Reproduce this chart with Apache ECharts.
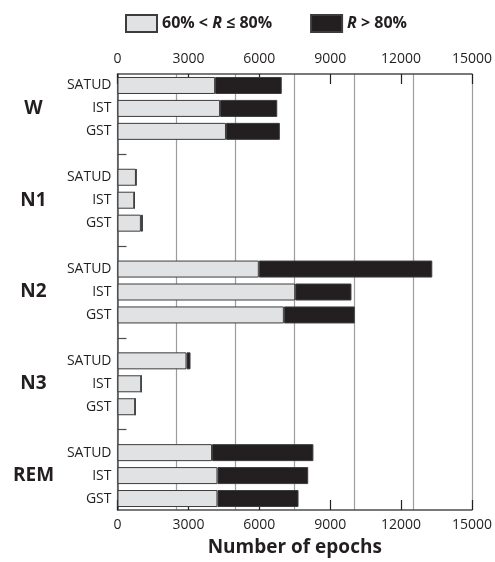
<!DOCTYPE html>
<html>
<head>
<meta charset="utf-8">
<script src="https://cdn.jsdelivr.net/npm/echarts@6/dist/echarts.min.js"></script>
<style>
  html, body { margin: 0; padding: 0; background: #fff; }
  #chart { width: 495px; height: 562px; }
</style>
</head>
<body>
<div id="chart"></div>
<script>
// stages (groups) and methods inside each group
const groups = ['W', 'N1', 'N2', 'N3', 'REM'];
const methods = ['SATUD', 'IST', 'GST'];

// epochs with 60% < R <= 80%, per group, order SATUD, IST, GST
const moderate = {
  W: [4130, 4340, 4590],
  N1: [780, 710, 990],
  N2: [5980, 7520, 7040],
  N3: [2920, 1005, 750],
  REM: [4000, 4230, 4230],
};
// epochs with R > 80%
const high = {
  W: [2820, 2420, 2280],
  N1: [20, 10, 85],
  N2: [7340, 2380, 3000],
  N3: [170, 0, 0],
  REM: [4290, 3840, 3430],
};

const xTicks = [0, 3000, 6000, 9000, 12000, 15000];

// build rows: 3 methods per group, one empty row between groups
const rows = [];
const modData = [];
const highData = [];
groups.forEach((g, gi) => {
  if (gi > 0) {
    rows.push('gap' + gi);
    modData.push('-');
    highData.push('-');
  }
  methods.forEach((m, mi) => {
    rows.push(g + '|' + m);
    modData.push(moderate[g][mi]);
    highData.push(high[g][mi]);
  });
});

const ink = '#231f20';
const axisCol = '#4d4d4d';
const font = '"Open Sans", "Noto Sans", sans-serif';

const chart = echarts.init(document.getElementById('chart'));

const xBase = {
  type: 'value',
  min: xTicks[0],
  max: xTicks[xTicks.length - 1],
  interval: xTicks[1] - xTicks[0],
  axisLine: { show: true, lineStyle: { color: axisCol, width: 1.5 } },
  axisTick: { show: true, inside: true, length: 10, lineStyle: { color: ink, width: 1.2 } },
  axisLabel: { color: ink, fontSize: 14, fontFamily: font, margin: 8, formatter: (v) => String(v) },
  splitLine: { show: false },
};

chart.setOption({
  animation: false,
  backgroundColor: '#fff',
  textStyle: { fontFamily: font },
  legend: {
    top: 9,
    left: 120,
    itemWidth: 31,
    itemHeight: 17,
    itemGap: 38,
    icon: 'rect',
    formatter: (name) => name === 'moderate'
      ? '{a|60% < }{i|R}{a| ≤ 80%}'
      : '{i|R}{a| > 80%}',
    textStyle: {
      color: ink,
      rich: {
        a: { fontSize: 16, fontWeight: 'bold', color: ink, fontFamily: font },
        i: { fontSize: 16, fontWeight: 'bold', fontStyle: 'italic', color: ink, fontFamily: font },
      },
    },
  },
  grid: { left: 117.5, right: 22, top: 74, bottom: 50.5, containLabel: false },
  xAxis: [
    Object.assign({}, xBase, {
      position: 'bottom',
      name: 'Number of epochs',
      nameLocation: 'middle',
      nameGap: 28,
      nameTextStyle: { fontSize: 19, fontWeight: 'bold', color: ink, fontFamily: font },
    }),
    Object.assign({}, xBase, { position: 'top' }),
    {
      // grid lines every 2500
      type: 'value',
      position: 'bottom',
      min: 0,
      max: 15000,
      interval: 2500,
      axisLine: { show: false },
      axisTick: { show: false },
      axisLabel: { show: false },
      splitLine: { show: true, lineStyle: { color: '#9d9d9d', width: 1.2 } },
    },
  ],
  yAxis: [
    {
      type: 'category',
      data: rows,
      inverse: true,
      axisLine: { show: true, lineStyle: { color: axisCol, width: 1.5 } },
      axisTick: {
        show: true,
        inside: true,
        length: 9,
        alignWithLabel: true,
        interval: (idx, val) => val.indexOf('gap') === 0,
        lineStyle: { color: axisCol, width: 1.2 },
      },
      axisLabel: {
        interval: 0,
        color: ink,
        fontSize: 14,
        fontFamily: font,
        margin: 6,
        formatter: (v) => v.indexOf('gap') === 0 ? '' : v.split('|')[1],
      },
      splitLine: { show: false },
    },
    {
      type: 'category',
      data: rows,
      inverse: true,
      position: 'left',
      axisLine: { show: false },
      axisTick: { show: false },
      axisLabel: {
        interval: 0,
        color: ink,
        fontSize: 19,
        fontWeight: 'bold',
        fontFamily: font,
        align: 'center',
        margin: 84,
        formatter: (v) => {
          const p = v.split('|');
          return p[1] === methods[1] ? p[0] : '';
        },
      },
      splitLine: { show: false },
    },
  ],
  series: [
    {
      name: 'moderate',
      type: 'bar',
      stack: 'total',
      xAxisIndex: 0,
      yAxisIndex: 0,
      barWidth: 17,
      data: modData,
      itemStyle: { color: '#e1e2e4', borderColor: '#3c3c3c', borderWidth: 1 },
    },
    {
      name: 'high',
      type: 'bar',
      stack: 'total',
      xAxisIndex: 0,
      yAxisIndex: 0,
      barWidth: 17,
      data: highData,
      itemStyle: { color: ink, borderColor: '#3c3c3c', borderWidth: 1 },
    },
  ],
});
</script>
</body>
</html>
